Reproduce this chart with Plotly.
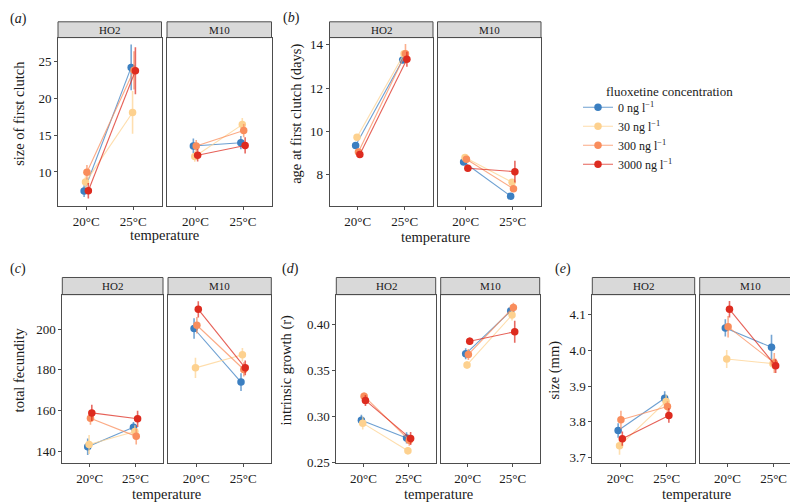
import plotly.graph_objects as go

W, H = 798, 503

temps = ["20°C", "25°C"]
strains = ["HO2", "M10"]
conc_labels = ["0 ng l<sup>−1</sup>", "30 ng l<sup>−1</sup>", "300 ng l<sup>−1</sup>", "3000 ng l<sup>−1</sup>"]
colors = ["#3b7fc1", "#fdd18f", "#f98d5c", "#dd2b1f"]

# means[strain][concentration] = [20°C, 25°C]; errs likewise
clutch_size_mean = {"HO2": [[7.41, 24.2], [8.62, 18.08], [9.96, 23.8], [7.45, 23.75]],
                    "M10": [[13.53, 13.97], [12.1, 16.43], [13.53, 15.63], [12.28, 13.6]]}
clutch_size_err = {"HO2": [[0.8, 3.1], [0.8, 2.9], [1.0, 2.6], [1.05, 3.2]],
                   "M10": [[1.0, 0.9], [0.7, 0.9], [0.8, 0.9], [0.85, 1.1]]}

clutch_age_mean = {"HO2": [[9.35, 13.30], [9.73, 13.58], [9.05, 13.58], [8.93, 13.33]],
                   "M10": [[8.59, 7.01], [8.79, 7.65], [8.71, 7.35], [8.30, 8.14]]}
clutch_age_err = {"HO2": [[0.1, 0.1], [0.15, 0.15], [0.1, 0.45], [0.12, 0.35]],
                  "M10": [[0.08, 0.08], [0.1, 0.12], [0.1, 0.12], [0.1, 0.5]]}

fecundity_mean = {"HO2": [[142.3, 151.9], [143.4, 149.8], [156.3, 147.4], [158.9, 156.0]],
                  "M10": [[200.3, 174.0], [181.0, 187.4], [201.9, 180.2], [209.7, 181.0]]}
fecundity_err = {"HO2": [[4.0, 2.6], [4.7, 3.0], [3.2, 4.0], [4.0, 4.0]],
                 "M10": [[5.0, 4.3], [5.0, 3.3], [4.0, 3.5], [4.0, 3.6]]}

growth_mean = {"HO2": [[0.2963, 0.2771], [0.2931, 0.2632], [0.3223, 0.2746], [0.3177, 0.2764]],
               "M10": [[0.3683, 0.4146], [0.3562, 0.4104], [0.3676, 0.4186], [0.3819, 0.3922]]}
growth_err = {"HO2": [[0.006, 0.006], [0.007, 0.004], [0.004, 0.006], [0.006, 0.007]],
              "M10": [[0.006, 0.004], [0.004, 0.006], [0.006, 0.005], [0.004, 0.012]]}

body_size_mean = {"HO2": [[3.776, 3.866], [3.733, 3.857], [3.806, 3.843], [3.753, 3.818]],
                  "M10": [[4.063, 4.009], [3.976, 3.963], [4.066, 3.965], [4.115, 3.957]]}
body_size_err = {"HO2": [[0.02, 0.02], [0.025, 0.02], [0.025, 0.015], [0.02, 0.02]],
                 "M10": [[0.024, 0.035], [0.025, 0.015], [0.03, 0.028], [0.023, 0.02]]}

y_titles = ["size of first clutch", "age at first clutch (days)", "total fecundity",
            "intrinsic growth (r)", "size (mm)"]
panel_letters = ["a", "b", "c", "d", "e"]
y_tickvals = [[10, 15, 20, 25], [8, 10, 12, 14], [140, 160, 180, 200],
              [0.25, 0.30, 0.35, 0.40], [3.7, 3.8, 3.9, 4.0, 4.1]]
y_ticktext = [["10", "15", "20", "25"], ["8", "10", "12", "14"], ["140", "160", "180", "200"],
              ["0.25", "0.30", "0.35", "0.40"], ["3.7", "3.8", "3.9", "4.0", "4.1"]]

# ---------- layout geometry (pixels) ----------
panels = [
    dict(fx=[(50, 153.5), (159, 263.5)], py=(30, 200.7), sy=(14, 30), yr=(5.39, 28.25)),
    dict(fx=[(321.5, 425), (429.5, 533)], py=(30, 200.7), sy=(14, 30), yr=(6.56, 14.33)),
    dict(fx=[(54.3, 155), (160, 263.3)], py=(290.7, 461.7), sy=(273.3, 290.7), yr=(134.2, 216.9)),
    dict(fx=[(328.3, 427.7), (432.7, 531.7)], py=(290.7, 461.7), sy=(273.3, 290.7), yr=(0.2496, 0.4324)),
    dict(fx=[(584.3, 686.7), (691.7, 793.3)], py=(290.7, 461.7), sy=(273.3, 290.7), yr=(3.6843, 4.156)),
]
ytitle_x = [11, 289, 11, 278, 546]
letter_pos = [(10, 11), (283, 10), (10, 265), (282, 265), (555, 265)]
xtitle_y = [230, 232, 493, 493, 493]

datasets = [(clutch_size_mean, clutch_size_err), (clutch_age_mean, clutch_age_err),
            (fecundity_mean, fecundity_err), (growth_mean, growth_err),
            (body_size_mean, body_size_err)]

dodge = [-0.045, -0.015, 0.015, 0.045]

FONT = "Liberation Serif"


def px(x):
    return x / W


def py(y):
    return 1 - y / H


def rgba(hexc, a):
    h = hexc.lstrip("#")
    r, g, b = int(h[0:2], 16), int(h[2:4], 16), int(h[4:6], 16)
    return f"rgba({r},{g},{b},{a})"


fig = go.Figure()
layout = dict(width=W, height=H, margin=dict(l=0, r=0, t=0, b=0), autosize=False,
              plot_bgcolor="white", paper_bgcolor="white",
              font=dict(family=FONT, size=13, color="#1a1a1a"))
shapes = []
annotations = []

for p, (panel, (means, errs)) in enumerate(zip(panels, datasets)):
    for f, strain in enumerate(strains):
        idx = 2 * p + f + 1
        xa = "x" if idx == 1 else f"x{idx}"
        ya = "y" if idx == 1 else f"y{idx}"
        x0, x1 = panel["fx"][f]
        layout[f"xaxis{idx}"] = dict(
            domain=[px(x0), px(x1)], anchor=ya, range=[0.4, 2.6],
            tickvals=[1, 2], ticktext=temps, showgrid=False, zeroline=False,
            showline=True, linecolor="#4d4d4d", linewidth=1, mirror=True,
            ticks="outside", ticklen=3, tickcolor="#4d4d4d",
            tickfont=dict(family=FONT, size=13, color="#1a1a1a"), fixedrange=True)
        layout[f"yaxis{idx}"] = dict(
            domain=[py(panel["py"][1]), py(panel["py"][0])], anchor=xa,
            range=list(panel["yr"]), tickvals=y_tickvals[p], ticktext=y_ticktext[p],
            showticklabels=(f == 0), showgrid=False, zeroline=False,
            showline=True, linecolor="#4d4d4d", linewidth=1, mirror=True,
            ticks="outside" if f == 0 else "", ticklen=3, tickcolor="#4d4d4d",
            tickfont=dict(family=FONT, size=13, color="#1a1a1a"), fixedrange=True)
        # strip
        shapes.append(dict(type="rect", xref="paper", yref="paper",
                           x0=px(x0), x1=px(x1), y0=py(panel["sy"][1]), y1=py(panel["sy"][0]),
                           fillcolor="#d9d9d9", line=dict(color="#4d4d4d", width=1), layer="below"))
        annotations.append(dict(xref="paper", yref="paper", x=px((x0 + x1) / 2),
                                y=py((panel["sy"][0] + panel["sy"][1]) / 2),
                                text=strain, showarrow=False, xanchor="center", yanchor="middle",
                                font=dict(family=FONT, size=11, color="#1a1a1a")))
        for c in range(4):
            xs = [1 + dodge[c], 2 + dodge[c]]
            fig.add_trace(go.Scatter(
                x=xs, y=means[strain][c], xaxis=xa, yaxis=ya,
                mode="lines+markers", name=conc_labels[c],
                showlegend=(idx == 1),
                line=dict(color=rgba(colors[c], 0.75), width=1.1),
                marker=dict(color=colors[c], size=7.5, line=dict(width=0)),
                error_y=dict(type="data", array=errs[strain][c], visible=True,
                             color=rgba(colors[c], 0.7), thickness=1.6, width=0),
                hoverinfo="skip"))
    # y title
    yc = (panel["sy"][0] + panel["py"][1]) / 2
    annotations.append(dict(xref="paper", yref="paper", x=px(ytitle_x[p]), y=py(yc),
                            text=y_titles[p], textangle=-90, showarrow=False,
                            xanchor="center", yanchor="middle",
                            font=dict(family=FONT, size=14.5, color="#1a1a1a")))
    # x title
    xc = (panel["fx"][0][0] + panel["fx"][1][1]) / 2
    annotations.append(dict(xref="paper", yref="paper", x=px(xc), y=py(xtitle_y[p]),
                            text="temperature", showarrow=False,
                            xanchor="center", yanchor="middle",
                            font=dict(family=FONT, size=14.5, color="#1a1a1a")))
    # panel letter
    lx, ly = letter_pos[p]
    annotations.append(dict(xref="paper", yref="paper", x=px(lx), y=py(ly),
                            text=f"(<i>{panel_letters[p]}</i>)", showarrow=False,
                            xanchor="center", yanchor="middle",
                            font=dict(family=FONT, size=14, color="#1a1a1a")))

annotations.append(dict(xref="paper", yref="paper", x=px(596), y=py(85),
                        text="fluoxetine concentration", showarrow=False,
                        xanchor="left", yanchor="middle",
                        font=dict(family=FONT, size=13, color="#1a1a1a")))

layout["shapes"] = shapes
layout["annotations"] = annotations
layout["legend"] = dict(x=px(570), y=py(86), xanchor="left", yanchor="top",
                        font=dict(family=FONT, size=12, color="#1a1a1a"),
                        bgcolor="rgba(0,0,0,0)", itemwidth=30, tracegroupgap=0)
fig.update_layout(**layout)

fig.write_html("out.html")
